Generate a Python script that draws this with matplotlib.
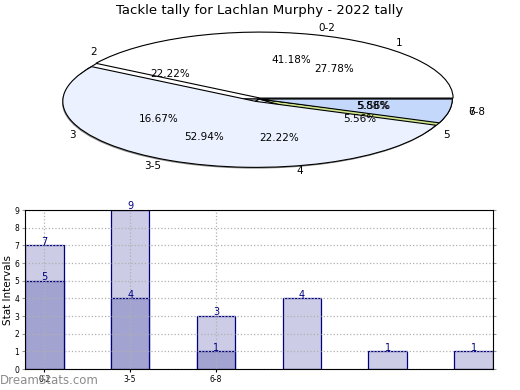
import matplotlib
matplotlib.use('Agg')
import matplotlib.pyplot as plt
from matplotlib.patches import Circle

# pie data
groups = ['0-2', '3-5', '6-8']
group_counts = [7, 9, 1]
tallies = ['1', '2', '3', '4', '5', '7']
tally_counts = [5, 4, 3, 4, 1, 1]

# bar data
bar_ticks = ['0-2', '3-5', '6-8']
light_vals = [7, 9, 3, 4, 1, 1]
dark_vals = [5, 4, 1]

fig = plt.figure(figsize=(5.2, 3.9), dpi=100)
fig.text(0.5, 0.974, 'Tackle tally for Lachlan Murphy - 2022 tally',
         ha='center', va='center', fontsize=9.5)

# ── pie (two overlaid pies, squashed into an ellipse) ──────────────────
axp = fig.add_axes([0.0346, 0.5346, 0.928, 0.423])
axp.pie(tally_counts, labels=tallies, autopct='%.2f%%', startangle=0,
        colors=['white', 'white', '#edf2fe', '#edf2fe', '#cfe68c', '#c4d8fc'],
        wedgeprops=dict(edgecolor='black', linewidth=0.8, zorder=2),
        textprops=dict(fontsize=7.5))
axp.pie(group_counts, labels=groups, autopct='%.2f%%', startangle=0,
        explode=[0.015, 0.04, 0.0],
        colors=['white', '#ebf1fe', '#c4d8fc'],
        wedgeprops=dict(edgecolor='black', linewidth=0.8, zorder=2),
        textprops=dict(fontsize=7.5))
# drop shadow behind the pies
axp.add_patch(Circle((-0.022, -0.055), 1.0, facecolor='#8a8a8a', edgecolor='none', zorder=1))
axp.set_aspect('auto')
axp.set_xlim(-1.25, 1.25)
axp.set_ylim(-1.25, 1.25)

# ── bars ────────────────────────────────────────────────────────────────
axb = fig.add_axes([0.048, 0.0538, 0.9, 0.4077])
xl = list(range(len(light_vals)))
xd = list(range(len(dark_vals)))
w = 0.45
axb.bar(xl, light_vals, width=w, color='#ccccE6', edgecolor='#000080', lw=0.9, zorder=1)
axb.bar(xd, dark_vals, width=w, color='#a3a3d1', edgecolor='#000080', lw=0.9, zorder=2)
for x, v in zip(xl, light_vals):
    axb.text(x, v - 0.08, str(v), ha='center', va='bottom', fontsize=7, color='#000080', zorder=4)
for x, v in zip(xd, dark_vals):
    axb.text(x, v - 0.08, str(v), ha='center', va='bottom', fontsize=7, color='#000080', zorder=4)

axb.set_xlim(-w / 2, len(light_vals) - 1 + w / 2)
axb.set_ylim(0, 9)
axb.set_yticks(range(10))
axb.set_xticks(range(len(bar_ticks)))
axb.set_xticklabels(bar_ticks)
axb.tick_params(labelsize=5.5, length=2, pad=2)
axb.tick_params(axis='y', right=True, colors='#999999', labelcolor='black')
axb.grid(True, ls=':', color='#b0b0b0', lw=0.9, zorder=3)
axb.set_axisbelow(False)
for s in axb.spines.values():
    s.set_zorder(5)
axb.set_ylabel('Stat Intervals', fontsize=7.5, labelpad=1)
axb.set_xlabel('Frequency', fontsize=8, labelpad=7)

fig.text(0.0, 0.024, 'DreamStats.com', fontsize=8.5, color='#8c8c8c',
         ha='left', va='center')

plt.savefig('out.png', dpi=100)
